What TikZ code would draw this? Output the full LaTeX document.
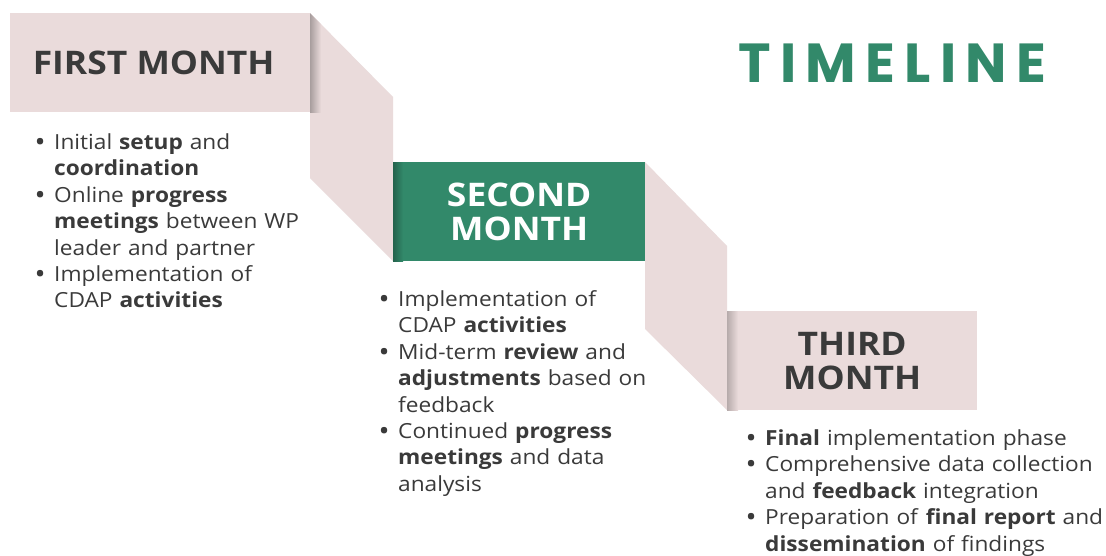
\documentclass[tikz,border=0pt]{standalone}
\usepackage{fontspec}
\setmainfont{Open Sans}[FakeStretch=1.09]
\newfontfamily\titlefont[LetterSpace=17]{Poppins}
\definecolor{rib}{HTML}{EADBDB}
\definecolor{grn}{HTML}{32896A}
\definecolor{txt}{HTML}{3A3A3A}
\newcommand\tlbul{\makebox[20pt][l]{\hspace*{0.5pt}\raisebox{-1.8pt}{\fontsize{27}{27}\selectfont\textbullet}}}
\newcommand\tlind{\hspace*{20pt}}
\newcommand\bodyfont{\fontsize{20.8}{26.4}\selectfont}
\tikzset{
  monthbox/.style={rectangle, inner sep=0pt, anchor=north west, minimum width=#1, align=center,
     font=\fontsize{32.5}{34}\selectfont\bfseries},
  bodytext/.style={anchor=base west, inner sep=0pt, text width=420pt, align=left, font=\bodyfont, text=txt},
}
\begin{document}
\begin{tikzpicture}[x=1pt, y=-1pt]
\useasboundingbox (0,0) rectangle (1106,555);
\fill[white] (0,0) rectangle (1106,555);
% ribbons
\fill[rib] (310,13) -- (393,97) -- (393,261) -- (310,178) -- cycle;
\fill[rib] (645,162) -- (727,246) -- (727,410) -- (645,329) -- cycle;
\begin{scope}
  \clip (310,13) -- (393,97) -- (393,261) -- (310,178) -- cycle;
  \shade[left color=rib!72!black, right color=rib] (310,13) rectangle (321,112);
\end{scope}
% month boxes
\node[monthbox=300pt, minimum height=99pt, fill=rib, text=txt] (b1) at (10,13) {FIRST MONTH\hspace*{13pt}};
\node[monthbox=252pt, minimum height=99pt, fill=grn, text=white] (b2) at (393,162) {SECOND\\MONTH};
\shade[left color=grn!72!black, right color=grn] (393,162) rectangle (403,261);
\node[monthbox=250pt, minimum height=99pt, fill=rib, text=txt] (b3) at (727,311) {THIRD\\MONTH};
\shade[left color=rib!78!black, right color=rib] (727,311) rectangle (738,410);
% title
\node[anchor=base west, inner sep=0pt, text=grn, font=\titlefont\fontsize{55}{55}\selectfont\bfseries] (title) at (738,82) {TIMELINE};
% bullet texts
\node[bodytext] (t1) at (34,149.5) {%
\tlbul Initial \textbf{setup} and\\
\tlind\textbf{coordination}\\
\tlbul Online \textbf{progress}\\
\tlind\textbf{meetings} between WP\\
\tlind leader and partner\\
\tlbul Implementation of\\
\tlind CDAP \textbf{activities}};
\node[bodytext] (t2) at (378,306.5) {%
\tlbul Implementation of\\
\tlind CDAP \textbf{activities}\\
\tlbul Mid-term \textbf{review} and\\
\tlind\textbf{adjustments} based on\\
\tlind feedback\\
\tlbul Continued \textbf{progress}\\
\tlind\textbf{meetings} and data\\
\tlind analysis};
\node[bodytext] (t3) at (745,445.5) {%
\tlbul\textbf{Final} implementation phase\\
\tlbul Comprehensive data collection\\
\tlind and \textbf{feedback} integration\\
\tlbul Preparation of \textbf{final report} and\\
\tlind\textbf{dissemination} of findings};
\end{tikzpicture}
\end{document}
